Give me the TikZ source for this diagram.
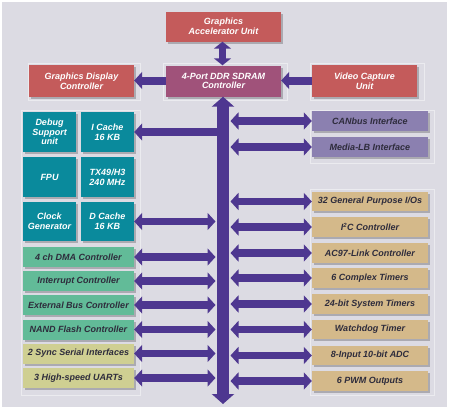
\documentclass[tikz,border=0pt]{standalone}
\usepackage{fontspec}
\setmainfont{Liberation Sans}
\usetikzlibrary{arrows.meta,shadows}
\definecolor{bgc}{HTML}{DCDBE3}
\definecolor{redc}{HTML}{C45B5B}
\definecolor{portc}{HTML}{A0527A}
\definecolor{tealc}{HTML}{0A8A9C}
\definecolor{greenc}{HTML}{62BB98}
\definecolor{yelc}{HTML}{CFCF92}
\definecolor{tanc}{HTML}{D4B98A}
\definecolor{purc}{HTML}{8B80B0}
\definecolor{arrc}{HTML}{4E3790}
\definecolor{darktxt}{HTML}{2E2C3C}
\tikzset{
  blk/.style={rectangle, inner sep=1pt, align=center,
    font=\fontsize{9}{9.6}\selectfont\bfseries\itshape,
    drop shadow={shadow xshift=2pt,shadow yshift=-2pt,fill=black,opacity=0.22}},
  redbox/.style={blk, fill=redc, text=white, minimum width=115pt, minimum height=30pt},
  portbox/.style={blk, fill=portc, text=white, minimum width=115pt, minimum height=31pt},
  sidebox/.style={blk, fill=redc, text=white, minimum width=105pt, minimum height=32pt},
  tealbox/.style={blk, fill=tealc, text=white, minimum width=53pt, minimum height=39.5pt},
  greenbox/.style={blk, fill=greenc, text=darktxt, minimum width=111pt, minimum height=20pt},
  yelbox/.style={blk, fill=yelc, text=darktxt, minimum width=111pt, minimum height=20pt},
  tanbox/.style={blk, fill=tanc, text=darktxt, minimum width=116pt, minimum height=19.5pt},
  purbox/.style={blk, fill=purc, text=darktxt, minimum width=116pt, minimum height=20pt},
  frame/.style={draw=white, opacity=0.45, line width=0.6pt},
  sarr/.style={arrc, line width=7.5pt, {Triangle[width=17pt,length=8pt]}-{Triangle[width=17pt,length=8pt]}},
  sarr1/.style={arrc, line width=8pt, -{Triangle[width=17pt,length=8pt]}},
  busarr/.style={arrc, line width=12pt, {Triangle[width=22pt,length=10pt]}-{Triangle[width=22pt,length=10pt]}},
}
\begin{document}
\begin{tikzpicture}[x=1pt,y=-1pt]
\useasboundingbox[fill=white] (0,0) rectangle (450,410);
\fill[bgc] (2,2) rectangle (447,407);
% faint group frames
\draw[frame] (28,63) rectangle (140,100);
\draw[frame] (163,63) rectangle (287,100);
\draw[frame] (310,63) rectangle (424,100);
\draw[frame] (21,110) rectangle (140,395);
\draw[frame] (310,110) rectangle (434,163);
\draw[frame] (310,189) rectangle (434,395);
% top
\node[redbox] (ga) at (223.5,26.5) {Graphics\\Accelerator Unit};
\node[sidebox] (gdc) at (81.5,81) {Graphics Display\\Controller};
\node[portbox] (port) at (223.5,81) {4-Port DDR SDRAM\\Controller};
\node[sidebox] (vcu) at (364.5,81) {Video Capture\\Unit};
% CPU core
\node[tealbox] (dbg) at (49.5,132) {Debug\\Support\\unit};
\node[tealbox] (ic) at (107.5,132) {I Cache\\16 KB};
\node[tealbox] (fpu) at (49.5,177) {FPU};
\node[tealbox] (cpu) at (107.5,177) {TX49/H3\\240 MHz};
\node[tealbox] (clk) at (49.5,221.5) {Clock\\Generator};
\node[tealbox] (dc) at (107.5,221.5) {D Cache\\16 KB};
% left peripherals
\node[greenbox] (dma) at (78.5,257) {4 ch DMA Controller};
\node[greenbox] (irq) at (78.5,281) {Interrupt Controller};
\node[greenbox] (ebc) at (78.5,305) {External Bus Controller};
\node[greenbox] (nand) at (78.5,329.5) {NAND Flash Controller};
\node[yelbox] (sio) at (78.5,353.5) {2 Sync Serial Interfaces};
\node[yelbox] (uart) at (78.5,378) {3 High-speed UARTs};
% right peripherals
\node[purbox] (can) at (370,121) {CANbus Interface};
\node[purbox] (mlb) at (370,147) {Media-LB Interface};
\node[tanbox] (gpio) at (370,201.5) {32 General Purpose I/Os};
\node[tanbox] (i2c) at (370,227) {I\textsuperscript{2}C Controller};
\node[tanbox] (ac97) at (370,253) {AC97-Link Controller};
\node[tanbox] (tmr) at (370,278) {6 Complex Timers};
\node[tanbox] (sys) at (370,304) {24-bit System Timers};
\node[tanbox] (wdt) at (370,329.5) {Watchdog Timer};
\node[tanbox] (adc) at (370,355.5) {8-Input 10-bit ADC};
\node[tanbox] (pwm) at (370,381) {6 PWM Outputs};
% bus
\coordinate (busbot) at (223,404);
\coordinate (busL) at (215.5,0);
\coordinate (busR) at (230.5,0);
\coordinate (busC) at (223,0);
\draw[arrc, line width=7pt, {Triangle[width=17pt,length=7pt]}-{Triangle[width=17pt,length=7pt]}]
  ([xshift=-1pt]ga.south) -- ([xshift=-1pt]port.north);
\draw[sarr1] ([yshift=0.5pt]port.west) -- ([yshift=0.5pt]gdc.east);
\draw[sarr1] ([yshift=0.5pt]vcu.west) -- ([yshift=0.5pt]port.east);
\draw[busarr] (port.south -| busC) -- (busbot);
\draw[sarr1] (ic.east -| busC) -- (ic.east);
\foreach \n in {dc,dma,irq,ebc,nand,sio,uart}
  \draw[sarr] (\n.east) -- (\n.east -| busL);
\foreach \n in {can,mlb,gpio,i2c,ac97,tmr,sys,wdt,adc,pwm}
  \draw[sarr] (\n.west -| busR) -- (\n.west);
\end{tikzpicture}
\end{document}
